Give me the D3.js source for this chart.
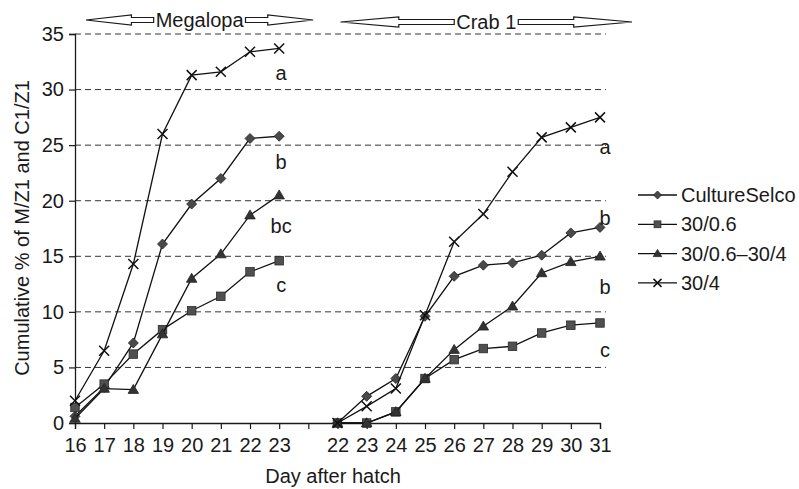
<!DOCTYPE html>
<html>
<head>
<meta charset="utf-8">
<style>
  body { margin: 0; background: #fff; }
  svg { display: block; }
  text { font-family: "Liberation Sans", Arial, sans-serif; fill: #1a1a1a; }
</style>
</head>
<body>
<div id="chart"></div>
<script src="https://d3js.org/d3.v7.min.js"></script>
<script>
// x slots: Megalopa days, an empty slot, then Crab 1 days
const dayLabels = ["16", "17", "18", "19", "20", "21", "22", "23", "",
                   "22", "23", "24", "25", "26", "27", "28", "29", "30", "31"];
const megalopaStart = 0;
const crabStart = 9;

const seriesNames = ["CultureSelco", "30/0.6", "30/0.6\u201330/4", "30/4"];
const seriesMarkers = ["diamond", "square", "triangle", "cross"];

// Megalopa stage, days 16-23
const cultureSelcoMegalopa = [0.6, 3.2, 7.2, 16.1, 19.7, 22.0, 25.6, 25.8];
const low06Megalopa        = [1.4, 3.5, 6.2, 8.4, 10.1, 11.4, 13.6, 14.6];
const switchMegalopa       = [0.4, 3.1, 3.0, 8.0, 13.0, 15.2, 18.7, 20.5];
const high4Megalopa        = [2.0, 6.5, 14.3, 26.0, 31.3, 31.6, 33.4, 33.7];

// Crab 1 stage, days 22-31
const cultureSelcoCrab = [0, 2.4, 4.0, 9.6, 13.2, 14.2, 14.4, 15.1, 17.1, 17.6];
const low06Crab        = [0, 0, 1.0, 4.0, 5.7, 6.7, 6.9, 8.1, 8.8, 9.0];
const switchCrab       = [0, 0, 1.0, 4.0, 6.6, 8.7, 10.5, 13.5, 14.5, 15.0];
const high4Crab        = [0, 1.5, 3.1, 9.7, 16.3, 18.8, 22.6, 25.7, 26.6, 27.5];

// significance letters, per series (same order as seriesNames)
const megalopaLetters = ["b", "c", "bc", "a"];
const crabLetters     = ["b", "c", "b", "a"];

const yTicks = [0, 5, 10, 15, 20, 25, 30, 35];

const megalopaSeries = [cultureSelcoMegalopa, low06Megalopa, switchMegalopa, high4Megalopa];
const crabSeries = [cultureSelcoCrab, low06Crab, switchCrab, high4Crab];

const width = 799, height = 489;
const svg = d3.select("#chart").append("svg")
  .attr("width", width)
  .attr("height", height);

const x = d3.scalePoint()
  .domain(d3.range(dayLabels.length))
  .range([75, 600]);

const y = d3.scaleLinear()
  .domain([0, 35])
  .range([423, 34]);

const ink = "#1a1a1a";

// dashed gridlines
svg.append("g")
  .selectAll("line")
  .data(yTicks.filter(d => d > 0))
  .join("line")
  .attr("x1", x(0)).attr("x2", 606)
  .attr("y1", d => y(d)).attr("y2", d => y(d))
  .attr("stroke", "#333")
  .attr("stroke-width", 1)
  .attr("stroke-dasharray", "6,4");

// y axis
const yAxis = d3.axisLeft(y).tickValues(yTicks).tickSize(6).tickPadding(5);
const gy = svg.append("g")
  .attr("transform", `translate(${x(0)},0)`)
  .call(yAxis);
gy.select(".domain").attr("stroke", ink).attr("stroke-width", 1.3);
gy.selectAll(".tick line").attr("stroke", ink).attr("stroke-width", 1.2);
gy.selectAll(".tick text")
  .attr("font-size", 20)
  .attr("fill", ink)
  .style("font-family", "'Liberation Sans', Arial, sans-serif");

// x axis
const xAxis = d3.axisBottom(x).tickFormat(i => dayLabels[i]).tickSize(6).tickPadding(9);
const gx = svg.append("g")
  .attr("transform", `translate(0,${y(0)})`)
  .call(xAxis);
gx.select(".domain").attr("stroke", ink).attr("stroke-width", 1.3);
gx.selectAll(".tick line").attr("stroke", ink).attr("stroke-width", 1.2);
gx.selectAll(".tick text")
  .attr("font-size", 20)
  .attr("fill", ink)
  .style("font-family", "'Liberation Sans', Arial, sans-serif");

// axis titles
svg.append("text")
  .attr("transform", "translate(29,228) rotate(-90)")
  .attr("text-anchor", "middle")
  .attr("font-size", 20)
  .text("Cumulative % of M/Z1 and C1/Z1");

svg.append("text")
  .attr("x", 333)
  .attr("y", 483)
  .attr("text-anchor", "middle")
  .attr("font-size", 20)
  .text("Day after hatch");

// markers
function drawMarker(sel, type, s) {
  if (type === "diamond") {
    sel.append("path")
      .attr("d", `M0,${-s}L${s},0L0,${s}L${-s},0Z`)
      .attr("fill", "#4a4a4a").attr("stroke", "#222").attr("stroke-width", 0.8);
  } else if (type === "square") {
    sel.append("rect")
      .attr("x", -s * 0.85).attr("y", -s * 0.85)
      .attr("width", s * 1.7).attr("height", s * 1.7)
      .attr("fill", "#505050").attr("stroke", "#2a2a2a").attr("stroke-width", 0.8);
  } else if (type === "triangle") {
    sel.append("path")
      .attr("d", `M0,${-s * 1.05}L${s * 1.05},${s * 0.75}L${-s * 1.05},${s * 0.75}Z`)
      .attr("fill", "#333").attr("stroke", "#222").attr("stroke-width", 0.8);
  } else {
    sel.append("path")
      .attr("d", `M${-s},${-s}L${s},${s}M${-s},${s}L${s},${-s}`)
      .attr("fill", "none").attr("stroke", "#111").attr("stroke-width", 1.5);
  }
}

const line = d3.line()
  .x(d => x(d.i))
  .y(d => y(d.v));

function drawPanel(seriesList, start) {
  seriesList.forEach((vals, k) => {
    const pts = vals.map((v, j) => ({ i: start + j, v: v }));
    svg.append("path")
      .datum(pts)
      .attr("d", line)
      .attr("fill", "none")
      .attr("stroke", "#111")
      .attr("stroke-width", 1.3);
    svg.append("g")
      .selectAll("g")
      .data(pts)
      .join("g")
      .attr("transform", d => `translate(${x(d.i)},${y(d.v)})`)
      .each(function () { drawMarker(d3.select(this), seriesMarkers[k], 5); });
  });
}

drawPanel(megalopaSeries, megalopaStart);
drawPanel(crabSeries, crabStart);

// significance letters, placed just off the final point of each series
const megalopaLetterDy = [26, 24, 31, 25];
const crabLetterDy = [-9, 27, 31, 30];
megalopaSeries.forEach((vals, k) => {
  svg.append("text")
    .attr("x", x(megalopaStart + vals.length - 1) + 2)
    .attr("y", y(vals[vals.length - 1]) + megalopaLetterDy[k] + 7)
    .attr("text-anchor", "middle")
    .attr("font-size", 20)
    .text(megalopaLetters[k]);
});
crabSeries.forEach((vals, k) => {
  svg.append("text")
    .attr("x", x(crabStart + vals.length - 1) + 5)
    .attr("y", y(vals[vals.length - 1]) + crabLetterDy[k] + 7)
    .attr("text-anchor", "middle")
    .attr("font-size", 20)
    .text(crabLetters[k]);
});

// stage arrows on top
function stageArrow(label, leftTip, rightTip, cy) {
  const g = svg.append("g");
  const cx = (leftTip + rightTip) / 2;
  const t = g.append("text")
    .attr("x", cx).attr("y", cy + 7)
    .attr("text-anchor", "middle")
    .attr("font-size", 20)
    .text(label);
  const tw = t.node().getComputedTextLength();
  const headLen = (rightTip - leftTip) * 0.2;
  const hh = 5, sh = 2.5;
  const lEnd = cx - tw / 2 - 2, rStart = cx + tw / 2 + 2;
  const lBase = leftTip + headLen, rBase = rightTip - headLen;
  g.append("path")
    .attr("d", `M${leftTip},${cy}L${lBase},${cy - hh}L${lBase},${cy - sh}L${lEnd},${cy - sh}` +
               `L${lEnd},${cy + sh}L${lBase},${cy + sh}L${lBase},${cy + hh}Z`)
    .attr("fill", "#fff").attr("stroke", ink).attr("stroke-width", 1.2);
  g.append("path")
    .attr("d", `M${rightTip},${cy}L${rBase},${cy - hh}L${rBase},${cy - sh}L${rStart},${cy - sh}` +
               `L${rStart},${cy + sh}L${rBase},${cy + sh}L${rBase},${cy + hh}Z`)
    .attr("fill", "#fff").attr("stroke", ink).attr("stroke-width", 1.2);
}
stageArrow("Megalopa", x(megalopaStart) + 11, x(7) + 34, 20);
stageArrow("Crab 1", x(crabStart) + 3, x(18) + 32, 22);

// legend
const legend = svg.append("g").attr("transform", "translate(638,195)");
seriesNames.forEach((name, k) => {
  const row = legend.append("g").attr("transform", `translate(0,${k * 29.3})`);
  row.append("line")
    .attr("x1", 0).attr("x2", 39)
    .attr("stroke", "#111").attr("stroke-width", 1.3);
  const m = row.append("g").attr("transform", "translate(19.5,0)");
  drawMarker(m, seriesMarkers[k], 4);
  row.append("text")
    .attr("x", 43).attr("y", 7)
    .attr("font-size", 20)
    .text(name);
});
</script>
</body>
</html>
